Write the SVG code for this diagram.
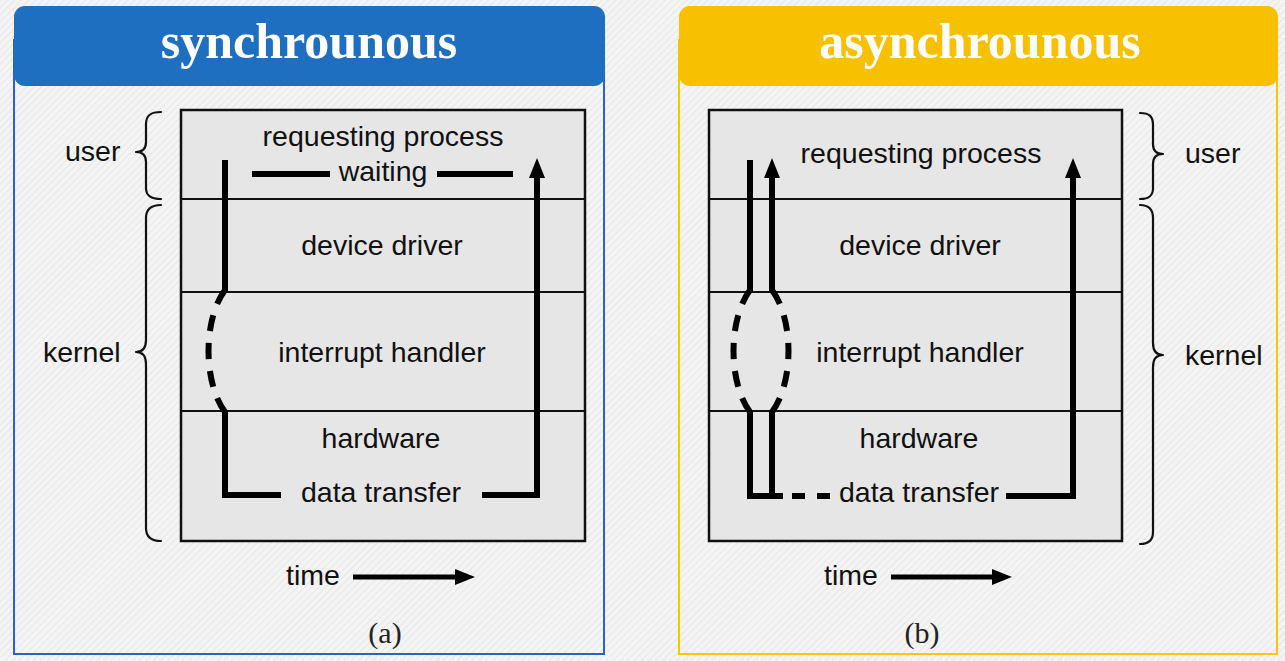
<svg xmlns="http://www.w3.org/2000/svg" width="1285" height="661" viewBox="0 0 1285 661">
  <style>
    .title { font-family: "Liberation Serif", "Times New Roman", serif; font-weight: bold; font-size: 50px; fill: #ffffff; text-anchor: middle; }
    .lbl { font-family: "Liberation Sans", Arial, Helvetica, sans-serif; font-size: 28.5px; fill: #111111; text-anchor: middle; }
    .side { font-family: "Liberation Sans", Arial, Helvetica, sans-serif; font-size: 28.5px; fill: #111111; }
    .cap { font-family: "Liberation Serif", "Times New Roman", serif; font-size: 30px; fill: #222222; text-anchor: middle; }
    .box { fill: #e6e6e6; stroke: #111111; stroke-width: 2.5; }
    .div { stroke: #111111; stroke-width: 2; fill: none; }
    .brace { fill: none; stroke: #111111; stroke-width: 2.2; stroke-linejoin: round; stroke-linecap: round; }
    .flow { fill: none; stroke: #000000; stroke-width: 6; stroke-linecap: butt; stroke-linejoin: miter; }
    .dash { fill: none; stroke: #000000; stroke-width: 6; stroke-dasharray: 16 12; }
    .timeln { fill: none; stroke: #000000; stroke-width: 5; }
  </style>
  <defs>
    <pattern id="hatch" patternUnits="userSpaceOnUse" width="5" height="5" patternTransform="rotate(45)">
      <rect width="5" height="5" fill="#f4f4f4"/>
      <line x1="0" y1="0" x2="0" y2="5" stroke="#e0e0e0" stroke-width="1.4"/>
    </pattern>
    <marker id="head" markerUnits="userSpaceOnUse" markerWidth="22" markerHeight="18" refX="1" refY="8" orient="auto">
      <path d="M0 0 L20 8 L0 16 z" fill="#000000"/>
    </marker>
  </defs>

  <rect x="0" y="0" width="1285" height="661" fill="url(#hatch)"/>

  <!-- Left panel: synchronous -->
  <g id="panel-sync">
    <rect x="14" y="40" width="590" height="614" fill="none" stroke="#2f5fc8" stroke-width="2"/>
    <rect x="14" y="6" width="591" height="80" rx="11" ry="11" fill="#1f6fc0"/>
    <text class="title" x="309" y="58">synchrounous</text>
  </g>

  <g id="sync-box">
    <rect class="box" x="181" y="110" width="404" height="431"/>
    <line class="div" x1="181" y1="199" x2="585" y2="199"/>
    <line class="div" x1="181" y1="292" x2="585" y2="292"/>
    <line class="div" x1="181" y1="411" x2="585" y2="411"/>
  </g>

  <g id="sync-labels">
    <text class="lbl" x="383" y="146">requesting process</text>
    <text class="lbl" x="383" y="181">waiting</text>
    <text class="lbl" x="382" y="255">device driver</text>
    <text class="lbl" x="382" y="362">interrupt handler</text>
    <text class="lbl" x="381" y="448">hardware</text>
    <text class="lbl" x="381" y="502">data transfer</text>
  </g>

  <g id="sync-braces">
    <path class="brace" d="M161 112 C151 112 146 115 146 124 L146 142 C146 148 143 152 136 152 C143 152 146 156 146 162 L146 188 C146 196 151 199 161 199"/>
    <text class="side" x="65" y="161">user</text>
    <path class="brace" d="M161 205 C151 205 146 209 146 218 L146 340 C146 347 143 352 136 352 C143 352 146 357 146 364 L146 528 C146 537 151 541 161 541"/>
    <text class="side" x="43" y="362">kernel</text>
  </g>

  <g id="sync-time">
    <text class="side" x="286" y="585">time</text>
    <text class="cap" x="385" y="643">(a)</text>
  </g>

  <!-- Right panel: asynchronous -->
  <g id="panel-async">
    <rect x="679" y="40" width="598" height="614" fill="none" stroke="#f5c800" stroke-width="2"/>
    <rect x="679" y="6" width="599" height="80" rx="11" ry="11" fill="#f7c000"/>
    <text class="title" x="980" y="58">asynchrounous</text>
  </g>

  <g id="async-box">
    <rect class="box" x="709" y="110" width="413" height="431"/>
    <line class="div" x1="709" y1="199" x2="1122" y2="199"/>
    <line class="div" x1="709" y1="292" x2="1122" y2="292"/>
    <line class="div" x1="709" y1="411" x2="1122" y2="411"/>
  </g>

  <g id="async-labels">
    <text class="lbl" x="921" y="163">requesting process</text>
    <text class="lbl" x="920" y="255">device driver</text>
    <text class="lbl" x="920" y="362">interrupt handler</text>
    <text class="lbl" x="919" y="448">hardware</text>
    <text class="lbl" x="919" y="502">data transfer</text>
  </g>

  <g id="async-braces">
    <path class="brace" d="M1140 113 C1149 113 1153 116 1153 125 L1153 144 C1153 150 1156 154 1163 154 C1156 154 1153 158 1153 164 L1153 188 C1153 196 1149 199 1140 199"/>
    <text class="side" x="1185" y="163">user</text>
    <path class="brace" d="M1140 205 C1149 205 1153 209 1153 218 L1153 343 C1153 350 1156 355 1163 355 C1156 355 1153 360 1153 367 L1153 532 C1153 540 1149 544 1140 544"/>
    <text class="side" x="1185" y="365">kernel</text>
  </g>

  <g id="async-time">
    <text class="side" x="824" y="585">time</text>
    <text class="cap" x="922" y="643">(b)</text>
  </g>

  <!-- Connectors -->
  <g id="connectors">
    <!-- synchronous -->
    <line class="flow" x1="252" y1="174" x2="330" y2="174"/>
    <line class="flow" x1="437" y1="174" x2="513" y2="174"/>
    <line class="flow" x1="225" y1="160" x2="225" y2="291"/>
    <path class="dash" pathLength="128" d="M225 290 C203 320 203 382 225 412"/>
    <polyline class="flow" points="225,411 225,495 281,495"/>
    <polyline class="flow" points="482,495 537,495 537,177" marker-end="url(#head)"/>
    <line class="timeln" x1="353" y1="577" x2="456" y2="577" marker-end="url(#head)"/>

    <!-- asynchronous -->
    <line class="flow" x1="750" y1="160" x2="750" y2="291"/>
    <line class="flow" x1="772" y1="291" x2="772" y2="177" marker-end="url(#head)"/>
    <path class="dash" pathLength="128" d="M750 290 C728 320 728 382 750 412"/>
    <path class="dash" pathLength="128" d="M772 290 C794 320 794 382 772 412"/>
    <polyline class="flow" points="750,411 750,496 783,496"/>
    <line class="flow" x1="772" y1="411" x2="772" y2="496"/>
    <line class="flow" x1="792" y1="496" x2="805" y2="496"/>
    <line class="flow" x1="817" y1="496" x2="830" y2="496"/>
    <polyline class="flow" points="1006,496 1073,496 1073,177" marker-end="url(#head)"/>
    <line class="timeln" x1="891" y1="577" x2="993" y2="577" marker-end="url(#head)"/>
  </g>
</svg>
